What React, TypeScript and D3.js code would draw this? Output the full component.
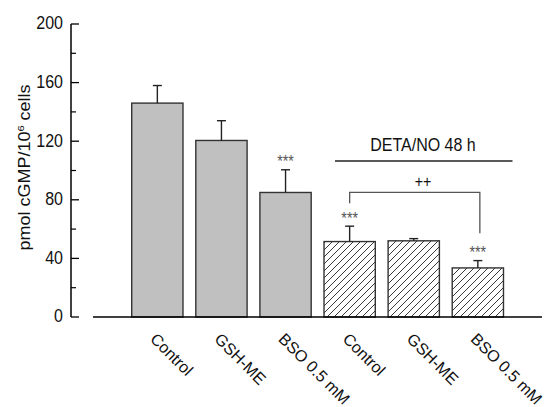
import React from "react";
import * as d3 from "d3";

const categories = ["Control", "GSH-ME", "BSO 0.5 mM", "Control", "GSH-ME", "BSO 0.5 mM"];
const means = [146, 120.5, 85, 51.5, 52, 33.5];
const errors = [12, 13.5, 15.5, 10.5, 1.5, 5];
const hatched = [false, false, false, true, true, true];
const stars = ["", "", "***", "***", "", "***"];
const majorTicks = [0, 40, 80, 120, 160, 200];
const minorTicks = [20, 60, 100, 140, 180];
const groupLabel = "DETA/NO 48 h";
const compareLabel = "++";
const compareFrom = 3;
const compareTo = 5;

const W = 547;
const H = 407;
const FONT = "'Liberation Sans', Arial, Helvetica, sans-serif";
const SQ = 0.89;

export default function App() {
  const y = d3.scaleLinear().domain([0, 200]).range([317, 24]);
  const x = d3
    .scaleBand<number>()
    .domain(d3.range(categories.length))
    .range([125.3, 509.9])
    .paddingInner(0.2)
    .paddingOuter(0.1);
  const bw = x.bandwidth();
  const cx = (i: number) => (x(i) as number) + bw / 2;
  const axisX = 71;

  const bx1 = cx(compareFrom);
  const bx2 = cx(compareTo) + 2;
  const bracketY = 192.3;

  return (
    <div style={{ position: "absolute", left: 0, top: 0, width: W, height: H }}>
      <svg width={W} height={H} style={{ position: "absolute", left: 0, top: 0 }} fontFamily={FONT}>
        <defs>
          <pattern id="hatch" patternUnits="userSpaceOnUse" width={7} height={7}>
            <path d="M0,7 L7,0 M-1,1 L1,-1 M6,8 L8,6" stroke="#222" strokeWidth={0.9} />
          </pattern>
        </defs>
        <rect x={0} y={0} width={W} height={H} fill="#fff" />

        {/* Y axis */}
        <line x1={axisX} x2={axisX} y1={y(200)} y2={y(0)} stroke="#000" strokeWidth={1.5} />
        {majorTicks.map((t) => (
          <g key={"M" + t}>
            <line x1={axisX} x2={axisX + 8} y1={y(t)} y2={y(t)} stroke="#000" strokeWidth={1.3} />
            <text
              transform={`translate(63,${y(t)}) scale(${SQ},1)`}
              dy="0.3em"
              textAnchor="end"
              fontSize={18}
              fill="#111"
            >
              {t}
            </text>
          </g>
        ))}
        {minorTicks.map((t) => (
          <line key={"m" + t} x1={axisX} x2={axisX + 5} y1={y(t)} y2={y(t)} stroke="#000" strokeWidth={1.2} />
        ))}
        <text
          transform={`translate(30,${167.5}) scale(${SQ},1) rotate(-90)`}
          textAnchor="middle"
          fontSize={18}
          fill="#111"
        >
          pmol cGMP/10<tspan dy={-7} fontSize={11}>6</tspan>
          <tspan dy={7}> cells</tspan>
        </text>

        {/* Bars */}
        {means.map((m, i) => (
          <rect
            key={"b" + i}
            x={x(i)}
            y={y(m)}
            width={bw}
            height={y(0) - y(m)}
            fill={hatched[i] ? "url(#hatch)" : "#c0c0c0"}
            stroke="#333"
            strokeWidth={1.4}
          />
        ))}
        {/* Error bars */}
        {means.map((m, i) => (
          <g key={"e" + i} stroke="#222" strokeWidth={1.4}>
            <line x1={cx(i)} x2={cx(i)} y1={y(m)} y2={y(m + errors[i])} />
            <line x1={cx(i) - 4.5} x2={cx(i) + 4.5} y1={y(m + errors[i])} y2={y(m + errors[i])} />
          </g>
        ))}
        {/* Stars */}
        {means.map((m, i) =>
          stars[i] ? (
            <text
              key={"s" + i}
              transform={`translate(${cx(i)},${y(m + errors[i]) - 12 + 9.5}) scale(${SQ},1)`}
              textAnchor="middle"
              fontSize={16}
              fill="#555"
            >
              {stars[i]}
            </text>
          ) : null
        )}

        {/* X axis */}
        <line x1={93} x2={542} y1={y(0)} y2={y(0)} stroke="#000" strokeWidth={1.5} />
        {categories.map((c, i) => (
          <text
            key={"x" + i}
            transform={`translate(${cx(i) - 8},340) rotate(45)`}
            fontSize={16.2}
            fill="#111"
          >
            {c}
          </text>
        ))}

        {/* Group annotation */}
        <line x1={335} x2={512.5} y1={161} y2={161} stroke="#222" strokeWidth={1.3} />
        <text
          transform={`translate(423,150.5) scale(${SQ},1)`}
          textAnchor="middle"
          fontSize={18}
          fill="#111"
        >
          {groupLabel}
        </text>

        {/* Bracket */}
        <path
          d={`M${bx1},203.3 L${bx1},${bracketY} L${bx2},${bracketY} L${bx2},233.3`}
          fill="none"
          stroke="#555"
          strokeWidth={1.3}
        />
        <text
          transform={`translate(423,187) scale(${SQ},1)`}
          textAnchor="middle"
          fontSize={16}
          fill="#111"
        >
          {compareLabel}
        </text>
      </svg>
    </div>
  );
}
